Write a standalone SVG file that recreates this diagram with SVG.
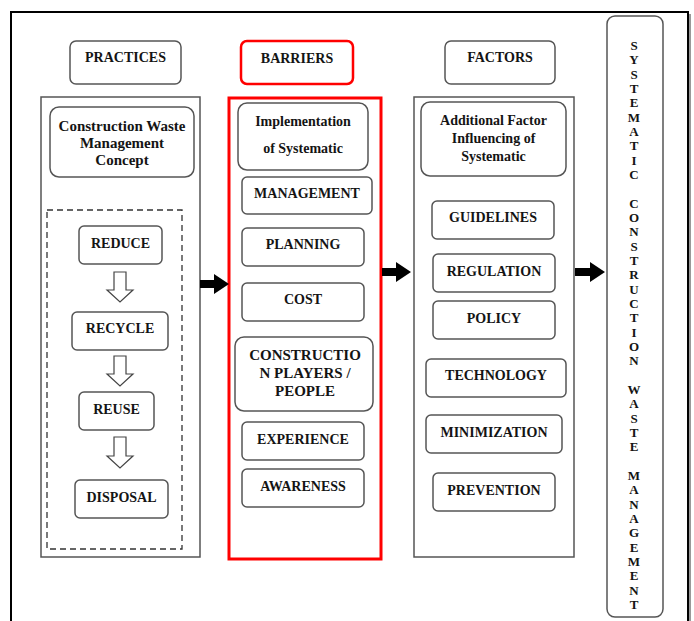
<svg xmlns="http://www.w3.org/2000/svg" width="694" height="621" viewBox="0 0 694 621">
<style>
.bx{fill:#fff;stroke:#555;stroke-width:1.5}
.col{fill:#fff;stroke:#555;stroke-width:1.5}
.red{fill:none;stroke:#ff0000;stroke-width:3}
.t{font-family:"Liberation Serif","Times New Roman",serif;font-weight:bold;font-size:14px;fill:#141414;text-anchor:middle}
.b{font-size:15px}
.v{font-family:"Liberation Serif","Times New Roman",serif;font-weight:bold;font-size:13px;fill:#141414;text-anchor:middle}
.ha{fill:#fff;stroke:#444;stroke-width:1.2}
</style>
<rect width="694" height="621" fill="#fff"/>
<rect x="13" y="14" width="678" height="615" fill="#999"/>
<rect x="11" y="12" width="677" height="615" fill="#fff" stroke="#000" stroke-width="2"/>

<g id="practices-head"><rect class="bx" x="70" y="41" width="111" height="43" rx="6"/><text class="t" x="125.5" y="62">PRACTICES</text></g>
<g id="barriers-head"><rect x="241" y="41" width="112" height="43" rx="6" fill="#fff" stroke="#ff0000" stroke-width="2.5"/><text class="t" x="297" y="63">BARRIERS</text></g>
<g id="factors-head"><rect class="bx" x="445" y="41" width="110" height="43" rx="6"/><text class="t" x="500" y="62">FACTORS</text></g>

<g id="practices-col"><rect class="col" x="41" y="97" width="159" height="460"/></g>
<g id="barriers-col"><rect class="red" x="229" y="98" width="152" height="461"/></g>
<g id="factors-col"><rect class="col" x="414" y="97" width="160" height="460"/></g>

<g id="cwm-concept"><rect class="bx" x="50" y="107" width="144" height="70" rx="9"/><text class="t b" x="122" y="131">Construction Waste</text><text class="t b" x="122" y="148">Management</text><text class="t b" x="122" y="165">Concept</text></g>
<g id="dashed-group"><rect x="47" y="210" width="135" height="339" fill="none" stroke="#333" stroke-width="1.3" stroke-dasharray="6,4"/></g>
<g id="reduce"><rect class="bx" x="79" y="226" width="83" height="38" rx="5"/><text class="t" x="120.5" y="248">REDUCE</text></g>
<g id="recycle"><rect class="bx" x="72" y="312" width="96" height="38" rx="5"/><text class="t" x="120" y="333">RECYCLE</text></g>
<g id="reuse"><rect class="bx" x="79" y="392" width="75" height="38" rx="5"/><text class="t" x="116.5" y="414">REUSE</text></g>
<g id="disposal"><rect class="bx" x="75" y="480" width="93" height="38" rx="5"/><text class="t" x="121.5" y="502">DISPOSAL</text></g>

<g id="implementation"><rect class="bx" x="238" y="103" width="130" height="67" rx="9"/><text class="t" x="303" y="126">Implementation</text><text class="t" x="303" y="153">of Systematic</text></g>
<g id="management"><rect class="bx" x="242" y="177" width="130" height="37" rx="5"/><text class="t" x="307" y="198">MANAGEMENT</text></g>
<g id="planning"><rect class="bx" x="242" y="228" width="122" height="38" rx="5"/><text class="t" x="303" y="249">PLANNING</text></g>
<g id="cost"><rect class="bx" x="242" y="283" width="122" height="38" rx="5"/><text class="t" x="303" y="304">COST</text></g>
<g id="players"><rect class="bx" x="235" y="337" width="138" height="74" rx="9"/><text class="t b" x="305" y="360">CONSTRUCTIO</text><text class="t b" x="305" y="378">N PLAYERS  /</text><text class="t b" x="305" y="396">PEOPLE</text></g>
<g id="experience"><rect class="bx" x="242" y="422" width="122" height="38" rx="5"/><text class="t" x="303" y="444">EXPERIENCE</text></g>
<g id="awareness"><rect class="bx" x="242" y="469" width="122" height="38" rx="5"/><text class="t" x="303" y="491">AWARENESS</text></g>

<g id="additional"><rect class="bx" x="421" y="102" width="145" height="74" rx="9"/><text class="t" x="493.5" y="125">Additional Factor</text><text class="t" x="493.5" y="143">Influencing of</text><text class="t" x="493.5" y="161">Systematic</text></g>
<g id="guidelines"><rect class="bx" x="432" y="201" width="122" height="38" rx="5"/><text class="t" x="493" y="222">GUIDELINES</text></g>
<g id="regulation"><rect class="bx" x="433" y="254" width="122" height="38" rx="5"/><text class="t" x="494" y="276">REGULATION</text></g>
<g id="policy"><rect class="bx" x="433" y="301" width="122" height="38" rx="5"/><text class="t" x="494" y="323">POLICY</text></g>
<g id="technology"><rect class="bx" x="426" y="359" width="140" height="38" rx="5"/><text class="t" x="496" y="380">TECHNOLOGY</text></g>
<g id="minimization"><rect class="bx" x="426" y="415" width="136" height="38" rx="5"/><text class="t" x="494" y="437">MINIMIZATION</text></g>
<g id="prevention"><rect class="bx" x="433" y="473" width="122" height="38" rx="5"/><text class="t" x="494" y="495">PREVENTION</text></g>

<g id="scwm"><rect class="bx" x="607" y="16" width="56" height="601" rx="8"/>
<text class="v" x="634" y="50">S</text><text class="v" x="634" y="64">Y</text><text class="v" x="634" y="79">S</text><text class="v" x="634" y="93">T</text><text class="v" x="634" y="107">E</text><text class="v" x="634" y="122">M</text><text class="v" x="634" y="136">A</text><text class="v" x="634" y="150">T</text><text class="v" x="634" y="165">I</text><text class="v" x="634" y="179">C</text>
<text class="v" x="634" y="208">C</text><text class="v" x="634" y="222">O</text><text class="v" x="634" y="236">N</text><text class="v" x="634" y="251">S</text><text class="v" x="634" y="265">T</text><text class="v" x="634" y="279">R</text><text class="v" x="634" y="294">U</text><text class="v" x="634" y="308">C</text><text class="v" x="634" y="322">T</text><text class="v" x="634" y="337">I</text><text class="v" x="634" y="351">O</text><text class="v" x="634" y="365">N</text>
<text class="v" x="634" y="394">W</text><text class="v" x="634" y="408">A</text><text class="v" x="634" y="423">S</text><text class="v" x="634" y="437">T</text><text class="v" x="634" y="451">E</text>
<text class="v" x="634" y="480">M</text><text class="v" x="634" y="494">A</text><text class="v" x="634" y="509">N</text><text class="v" x="634" y="523">A</text><text class="v" x="634" y="537">G</text><text class="v" x="634" y="552">E</text><text class="v" x="634" y="566">M</text><text class="v" x="634" y="580">E</text><text class="v" x="634" y="595">N</text><text class="v" x="634" y="609">T</text>
</g>

<g id="connectors">
<path class="ha" d="M114,272 H126 V290 H133 L120,302 L107,290 H114 Z"/>
<path class="ha" d="M114,356 H126 V374 H133 L120,386 L107,374 H114 Z"/>
<path class="ha" d="M114,437 H126 V456 H133 L120,468 L107,456 H114 Z"/>
<path d="M200,280 H214 V274 L229,284 L214,294 V288 H200 Z" fill="#000"/>
<path d="M382,268 H396 V262 L411,272 L396,282 V276 H382 Z" fill="#000"/>
<path d="M575,268 H590 V262 L605,272 L590,282 V276 H575 Z" fill="#000"/>
</g>
</svg>
